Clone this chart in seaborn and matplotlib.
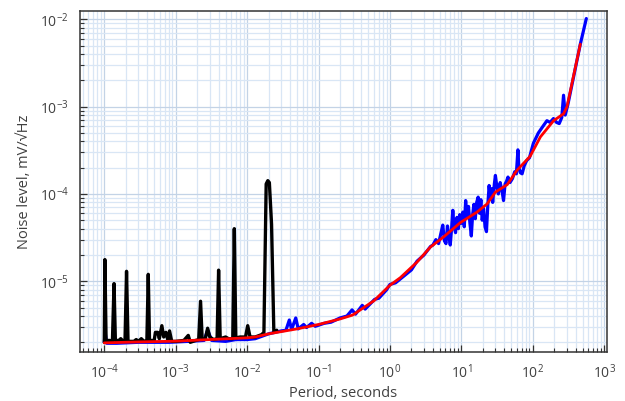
import numpy as np
import pandas as pd
import matplotlib
matplotlib.use("Agg")
import matplotlib.pyplot as plt
from matplotlib.ticker import LogLocator, NullFormatter
import seaborn as sns

# ---------------- data ----------------
red_period = [1e-4, 3e-4, 1e-3, 3e-3, 1e-2, 1.3e-2, 2e-2, 5e-2, 0.1, 0.2, 0.3, 0.6,
              1.0, 1.4, 2.4, 3.7, 5.6, 9.7, 16.6, 23, 30, 44, 60, 92, 128, 196,
              271, 302, 464]
red_noise = [1.97e-6, 2.02e-6, 2.06e-6, 2.15e-6, 2.25e-6, 2.3e-6, 2.5e-6, 2.85e-6,
             3.2e-6, 3.7e-6, 4.1e-6, 6.0e-6, 9.0e-6, 1.1e-5, 1.66e-5, 2.47e-5,
             3.2e-5, 4.7e-5, 6.2e-5, 7.7e-5, 1.05e-4, 1.28e-4, 1.86e-4, 2.7e-4,
             4.5e-4, 6.9e-4, 8.3e-4, 1.0e-3, 5.2e-3]

blue_period = [1.0e-4, 1.03e-4, 1.08e-4, 1.5e-4, 3e-4, 8e-4, 1.5e-3, 2.5e-3, 2.8e-3,
               3.2e-3, 5e-3, 7e-3, 1e-2, 1.3e-2, 0.02, 0.03, 0.035, 0.039, 0.042,
               0.048, 0.052, 0.062, 0.068, 0.08, 0.09, 0.12, 0.15, 0.2, 0.25, 0.295,
               0.33, 0.41, 0.45, 0.61, 0.7, 0.9, 1.0, 1.2, 1.72, 2.0, 2.4, 3.0, 3.7,
               4.0, 4.4, 4.8, 5.2, 5.5, 5.8, 6.1, 6.4, 6.7, 7.0, 7.3, 7.6, 7.9, 8.3,
               8.7, 9.1, 9.5, 10.0, 10.5, 11.0, 11.5, 12.0, 12.6, 13.2, 13.8, 14.4,
               15.0, 15.7, 16.4, 17.2, 18.0, 18.8, 19.6, 20.5, 21.5, 22.5, 23.5, 24.5,
               25.5, 26.5, 27.5, 29, 30, 31.5, 33, 35, 37, 39, 41, 43, 45, 48, 52, 56,
               59, 62, 64, 67, 71, 76, 82, 90, 102, 120, 140, 158, 175, 195, 215, 235,
               255, 270, 285, 310, 464, 563]
blue_noise = [2.0e-6, 2.6e-6, 1.95e-6, 1.95e-6, 2.0e-6, 2.0e-6, 2.05e-6, 2.1e-6, 2.75e-6,
              2.1e-6, 2.05e-6, 2.15e-6, 2.15e-6, 2.2e-6, 2.5e-6, 2.7e-6, 2.75e-6, 3.6e-6,
              2.8e-6, 3.8e-6, 2.85e-6, 3.2e-6, 2.95e-6, 3.3e-6, 3.05e-6, 3.3e-6, 3.4e-6,
              3.8e-6, 4.0e-6, 4.7e-6, 4.2e-6, 5.3e-6, 4.8e-6, 6.2e-6, 6.4e-6, 8.0e-6,
              9.2e-6, 9.6e-6, 1.22e-5, 1.35e-5, 1.7e-5, 2.0e-5, 2.5e-5,
              2.6e-5, 3.0e-5, 2.7e-5, 3.6e-5, 4.4e-5, 2.9e-5, 2.7e-5, 4.3e-5, 3.3e-5,
              2.6e-5, 4.0e-5, 6.5e-5, 4.2e-5, 3.6e-5, 5.4e-5, 4.0e-5, 5.8e-5, 4.6e-5,
              6.2e-5, 4.2e-5, 8.4e-5, 5.5e-5, 7.2e-5, 4.6e-5, 3.3e-5, 5.8e-5, 7.6e-5,
              5.2e-5, 8.0e-5, 9.2e-5, 6.0e-5, 8.6e-5, 5.0e-5, 6.8e-5, 4.2e-5, 3.7e-5,
              7.5e-5, 1.25e-4, 9.0e-5, 1.15e-4, 8.0e-5, 1.3e-4, 1.63e-4, 1.2e-4, 1.0e-4,
              1.35e-4, 1.1e-4, 8.4e-5, 1.3e-4, 1.4e-4, 1.56e-4, 1.35e-4, 1.5e-4, 1.8e-4,
              1.7e-4, 3.2e-4, 2.0e-4, 1.75e-4, 1.7e-4, 2.1e-4, 2.4e-4, 2.6e-4, 3.8e-4,
              5.0e-4, 6.0e-4, 6.9e-4, 6.6e-4, 7.3e-4, 6.6e-4, 6.4e-4, 7.5e-4, 1.35e-3,
              8.0e-4, 1.05e-3, 5.2e-3, 1.02e-2]

black_period = [1.0e-4, 1.02e-4, 1.06e-4, 1.2e-4, 1.3e-4, 1.37e-4, 1.43e-4, 1.6e-4,
                1.7e-4, 1.85e-4, 1.95e-4, 2.05e-4, 2.15e-4, 2.6e-4, 2.8e-4, 3.0e-4,
                3.3e-4, 3.6e-4, 3.95e-4, 4.13e-4, 4.3e-4, 5.0e-4, 5.2e-4, 5.6e-4,
                5.9e-4, 6.4e-4, 6.8e-4, 7.3e-4, 7.8e-4, 8.2e-4, 8.8e-4, 1.0e-3, 1.3e-3,
                1.5e-3, 1.6e-3, 1.9e-3, 2.1e-3, 2.23e-3, 2.35e-3, 2.6e-3, 2.8e-3,
                3.0e-3, 3.4e-3, 3.8e-3, 3.99e-3, 4.2e-3, 5e-3, 5.5e-3, 6.3e-3, 6.62e-3,
                6.95e-3, 8e-3, 9.5e-3, 1.02e-2, 1.1e-2, 1.3e-2, 1.6e-2, 1.72e-2, 1.85e-2,
                1.95e-2, 2.05e-2, 2.2e-2, 2.37e-2, 2.6e-2]
black_noise = [2.0e-6, 1.77e-5, 2.1e-6, 2.1e-6, 2.05e-6, 9.4e-6, 2.1e-6, 2.1e-6,
               2.2e-6, 2.05e-6, 2.05e-6, 1.3e-5, 2.05e-6, 2.05e-6, 2.15e-6, 2.05e-6,
               2.2e-6, 2.05e-6, 2.1e-6, 1.2e-5, 2.1e-6, 2.1e-6, 2.6e-6, 2.6e-6,
               2.2e-6, 3.1e-6, 2.3e-6, 2.6e-6, 2.1e-6, 2.7e-6, 2.05e-6, 2.05e-6, 2.1e-6,
               2.4e-6, 2.0e-6, 2.1e-6, 2.15e-6, 5.9e-6, 2.15e-6, 2.2e-6, 2.9e-6,
               2.3e-6, 2.15e-6, 2.2e-6, 1.34e-5, 2.2e-6, 2.3e-6, 2.2e-6, 2.2e-6, 4.0e-5,
               2.25e-6, 2.3e-6, 2.3e-6, 3.1e-6, 2.3e-6, 2.3e-6, 2.45e-6, 2.6e-6, 1.3e-4,
               1.42e-4, 1.35e-4, 4.5e-5, 2.6e-6, 2.75e-6]

x_label = "Period, seconds"
y_label = "Noise level, mV/\u221aHz"

# ---------------- plot ----------------
sns.set_theme(style="white")
plt.rcParams["font.family"] = ["Open Sans", "DejaVu Sans"]
plt.rcParams["mathtext.fontset"] = "custom"
plt.rcParams["mathtext.rm"] = "Open Sans"
plt.rcParams["mathtext.it"] = "Open Sans"
plt.rcParams["mathtext.bf"] = "Open Sans"

fig = plt.figure(figsize=(6.25, 4.01), dpi=100)
ax = fig.add_axes([80 / 625, 1 - 352 / 401, (607 - 80) / 625, (352 - 11) / 401])

df_blue = pd.DataFrame({"p": blue_period, "n": blue_noise})
df_black = pd.DataFrame({"p": black_period, "n": black_noise})
df_red = pd.DataFrame({"p": red_period, "n": red_noise})

sns.lineplot(data=df_blue, x="p", y="n", ax=ax, color="#0000ff", lw=2.3,
             estimator=None, sort=False)
sns.lineplot(data=df_black, x="p", y="n", ax=ax, color="#000000", lw=2.4,
             estimator=None, sort=False)
sns.lineplot(data=df_red, x="p", y="n", ax=ax, color="#ff0000", lw=2.0,
             estimator=None, sort=False)

ax.set_xscale("log")
ax.set_yscale("log")
ax.set_xlim(10 ** -4.34, 10 ** 3.04)
ax.set_ylim(10 ** -5.81, 10 ** -1.905)

ax.xaxis.set_major_locator(LogLocator(base=10, numticks=20))
ax.yaxis.set_major_locator(LogLocator(base=10, numticks=20))
ax.xaxis.set_minor_locator(LogLocator(base=10, subs=np.arange(2, 10), numticks=100))
ax.yaxis.set_minor_locator(LogLocator(base=10, subs=np.arange(2, 10), numticks=100))
ax.xaxis.set_minor_formatter(NullFormatter())
ax.yaxis.set_minor_formatter(NullFormatter())
ax.yaxis.get_offset_text().set_visible(False)
ax.xaxis.get_offset_text().set_visible(False)

ax.grid(which="minor", color="#d9e6f5", lw=0.9, zorder=0)
ax.grid(which="major", color="#c3d3e6", lw=0.9, zorder=0)
ax.set_axisbelow(True)

ax.tick_params(which="major", direction="in", length=5, width=0.9, color="#333333",
               labelsize=10, labelcolor="#404040", left=True, bottom=True, pad=8)
ax.tick_params(which="minor", direction="in", length=3, width=0.8, color="#333333",
               left=True, bottom=True)

for s in ax.spines.values():
    s.set_color("#333333")
    s.set_linewidth(1.1)

ax.set_xlabel(x_label, fontsize=10.5, color="#404040", labelpad=3)
ax.set_ylabel(y_label, fontsize=10.5, color="#404040", labelpad=6)

fig.savefig("out.png", dpi=100)
